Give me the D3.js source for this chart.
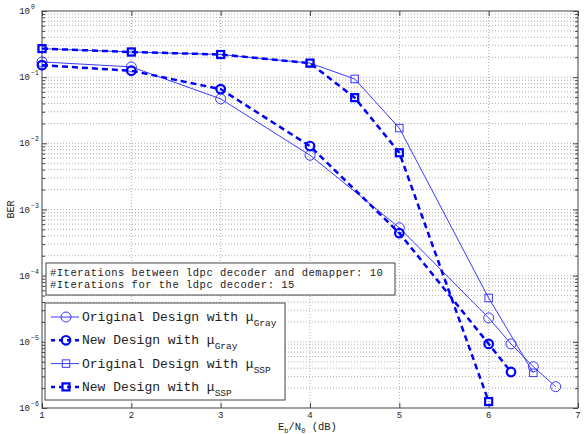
<!DOCTYPE html>
<html>
<head>
    <script src="https://d3js.org/d3.v7.min.js"></script>
    <style>
        body { margin: 0; background: #fff; }
        text { font-family: "Liberation Mono", "DejaVu Sans Mono", monospace; fill: #222; }
    </style>
</head>
<body>
    <svg width="588" height="434"></svg>
    <script>

        // Values
        const xOrigGray = [1, 2, 3, 4, 5, 6, 6.25, 6.5, 6.75];
        const berOrigGray = [0.17, 0.143, 0.047, 0.0066, 5.3e-4, 2.3e-5, 9.3e-6, 4.2e-6, 2.1e-6];
        const xNewGray = [1, 2, 3, 4, 5, 6, 6.25];
        const berNewGray = [0.152, 0.125, 0.066, 0.0091, 4.4e-4, 9.3e-6, 3.5e-6];
        const xOrigSsp = [1, 2, 3, 4, 4.5, 5, 6, 6.5];
        const berOrigSsp = [0.27, 0.24, 0.22, 0.163, 0.094, 0.017, 4.6e-5, 3.4e-6];
        const xNewSsp = [1, 2, 3, 4, 4.5, 5, 6];
        const berNewSsp = [0.27, 0.24, 0.22, 0.163, 0.049, 0.0072, 1.25e-6];

        const xTicks = [1, 2, 3, 4, 5, 6, 7];
        const yExponents = [0, -1, -2, -3, -4, -5, -6];
        const legendNames = ["Original Design with μ", "New Design with μ", "Original Design with μ", "New Design with μ"];
        const legendSubs = ["Gray", "Gray", "SSP", "SSP"];
        const noteLines = ["#Iterations between ldpc decoder and demapper: 10", "#Iterations for the ldpc decoder: 15"];

        const svg = d3.select("svg");
        const pLeft = 42, pRight = 578, pTop = 11, pBottom = 408;

        const x = d3.scaleLinear().domain([1, 7]).range([pLeft, pRight]);
        const y = d3.scaleLog().domain([1e-6, 1]).range([pBottom, pTop]);

        const gridColor = "#9a9a9a";
        const axisColor = "#444";

        // minor / major log values
        const minorVals = [];
        for (let e = -6; e < 0; e++) {
            for (let k = 2; k <= 9; k++) minorVals.push(k * Math.pow(10, e));
        }
        const majorVals = yExponents.map(e => Math.pow(10, e));

        // grid
        const grid = svg.append("g");
        grid.selectAll(".hg")
            .data(minorVals.concat(majorVals.slice(1, -1)))
            .join("line")
            .attr("x1", pLeft).attr("x2", pRight)
            .attr("y1", d => y(d)).attr("y2", d => y(d))
            .attr("stroke", gridColor).attr("stroke-width", 0.8)
            .attr("stroke-dasharray", "1,2");
        grid.selectAll(".vg")
            .data(xTicks.slice(1, -1))
            .join("line")
            .attr("x1", d => x(d)).attr("x2", d => x(d))
            .attr("y1", pTop).attr("y2", pBottom)
            .attr("stroke", gridColor).attr("stroke-width", 0.8)
            .attr("stroke-dasharray", "1,2");

        // axes with inward ticks
        svg.append("g")
            .attr("transform", "translate(" + pLeft + ",0)")
            .call(d3.axisRight(y).tickValues(majorVals).tickSize(5).tickFormat(""));
        svg.append("g")
            .attr("transform", "translate(" + pRight + ",0)")
            .call(d3.axisLeft(y).tickValues(majorVals).tickSize(5).tickFormat(""));
        svg.append("g")
            .attr("transform", "translate(" + pLeft + ",0)")
            .call(d3.axisRight(y).tickValues(minorVals).tickSize(3).tickFormat(""));
        svg.append("g")
            .attr("transform", "translate(" + pRight + ",0)")
            .call(d3.axisLeft(y).tickValues(minorVals).tickSize(3).tickFormat(""));
        svg.append("g")
            .attr("transform", "translate(0," + pBottom + ")")
            .call(d3.axisTop(x).tickValues(xTicks).tickSize(5).tickFormat(""));
        svg.append("g")
            .attr("transform", "translate(0," + pTop + ")")
            .call(d3.axisBottom(x).tickValues(xTicks).tickSize(5).tickFormat(""));
        svg.selectAll(".domain").remove();
        svg.selectAll(".tick line").attr("stroke", axisColor);

        svg.append("rect")
            .attr("x", pLeft).attr("y", pTop)
            .attr("width", pRight - pLeft).attr("height", pBottom - pTop)
            .attr("fill", "none").attr("stroke", axisColor).attr("stroke-width", 1);

        // tick labels
        svg.selectAll(".xl")
            .data(xTicks)
            .join("text")
            .attr("x", d => x(d)).attr("y", pBottom + 10)
            .attr("text-anchor", "middle")
            .style("font-size", "9px")
            .text(d => d);

        svg.selectAll(".yl")
            .data(yExponents)
            .join("text")
            .attr("x", 30).attr("y", d => y(Math.pow(10, d)) + 3)
            .attr("text-anchor", "end")
            .style("font-size", "9px")
            .text("10");
        svg.selectAll(".ye")
            .data(yExponents)
            .join("text")
            .attr("x", 31).attr("y", d => y(Math.pow(10, d)) - 2)
            .style("font-size", "6.5px")
            .text(d => d === 0 ? "0" : "\u2212" + (-d));

        // axis titles
        svg.append("text")
            .attr("transform", "translate(14," + ((pTop + pBottom) / 2) + ") rotate(-90)")
            .attr("text-anchor", "middle")
            .style("font-size", "10px")
            .text("BER");
        const xt = svg.append("text")
            .attr("x", 278).attr("y", 430)
            .style("font-size", "10.5px");
        xt.append("tspan").text("E");
        xt.append("tspan").attr("dy", 3).style("font-size", "7px").text("b");
        xt.append("tspan").attr("dy", -3).text("/N");
        xt.append("tspan").attr("dy", 3).style("font-size", "7px").text("0");
        xt.append("tspan").attr("dy", -3).text(" (dB)");

        // series
        const series = [
            { xs: xOrigGray, ys: berOrigGray, marker: "circle", thick: false },
            { xs: xNewGray, ys: berNewGray, marker: "circle", thick: true },
            { xs: xOrigSsp, ys: berOrigSsp, marker: "square", thick: false },
            { xs: xNewSsp, ys: berNewSsp, marker: "square", thick: true }
        ];

        const line = d3.line()
            .x(d => x(d[0]))
            .y(d => y(d[1]));

        function drawMarker(g, type, cx, cy, thick) {
            const col = thick ? "#0000ff" : "#3a3aff";
            if (type === "circle") {
                g.append("circle")
                    .attr("cx", cx).attr("cy", cy).attr("r", thick ? 4.3 : 5)
                    .attr("fill", "none").attr("stroke", col)
                    .attr("stroke-width", thick ? 2.2 : 1);
            } else {
                const s = thick ? 7 : 7.5;
                g.append("rect")
                    .attr("x", cx - s / 2).attr("y", cy - s / 2)
                    .attr("width", s).attr("height", s)
                    .attr("fill", "none").attr("stroke", col)
                    .attr("stroke-width", thick ? 2.2 : 1);
            }
        }

        const plot = svg.append("g");
        series.forEach(function(s) {
            const pts = s.xs.map((v, i) => [v, s.ys[i]]);
            plot.append("path")
                .datum(pts)
                .attr("fill", "none")
                .attr("stroke", s.thick ? "#0000ff" : "#3a3aff")
                .attr("stroke-width", s.thick ? 2.5 : 1)
                .attr("stroke-dasharray", s.thick ? "6,4" : null)
                .attr("d", line);
            pts.forEach(p => drawMarker(plot, s.marker, x(p[0]), y(p[1]), s.thick));
        });

        // annotation box
        svg.append("rect")
            .attr("x", 46).attr("y", 263).attr("width", 349).attr("height", 32)
            .attr("fill", "#fff").attr("stroke", axisColor).attr("stroke-width", 1);
        svg.selectAll(".note")
            .data(noteLines)
            .join("text")
            .attr("x", 50).attr("y", (d, i) => 275.5 + i * 12)
            .style("font-size", "10.5px")
            .style("letter-spacing", "0.5px")
            .text(d => d);

        // legend
        svg.append("rect")
            .attr("x", 45).attr("y", 303).attr("width", 240).attr("height", 97)
            .attr("fill", "#fff").attr("stroke", axisColor).attr("stroke-width", 1);
        series.forEach(function(s, i) {
            const cy = 317 + i * 23.3;
            svg.append("line")
                .attr("x1", 51).attr("x2", 79).attr("y1", cy).attr("y2", cy)
                .attr("stroke", s.thick ? "#0000ff" : "#3a3aff")
                .attr("stroke-width", s.thick ? 2.5 : 1)
                .attr("stroke-dasharray", s.thick ? "4,4" : null);
            drawMarker(svg, s.marker, 66, cy, s.thick);
            const t = svg.append("text")
                .attr("x", 82).attr("y", cy + 4)
                .style("font-size", "13px");
            t.append("tspan").text(legendNames[i]);
            t.append("tspan").attr("dy", 5).style("font-size", "9.5px").text(legendSubs[i]);
        });

    </script>
</body>
</html>
